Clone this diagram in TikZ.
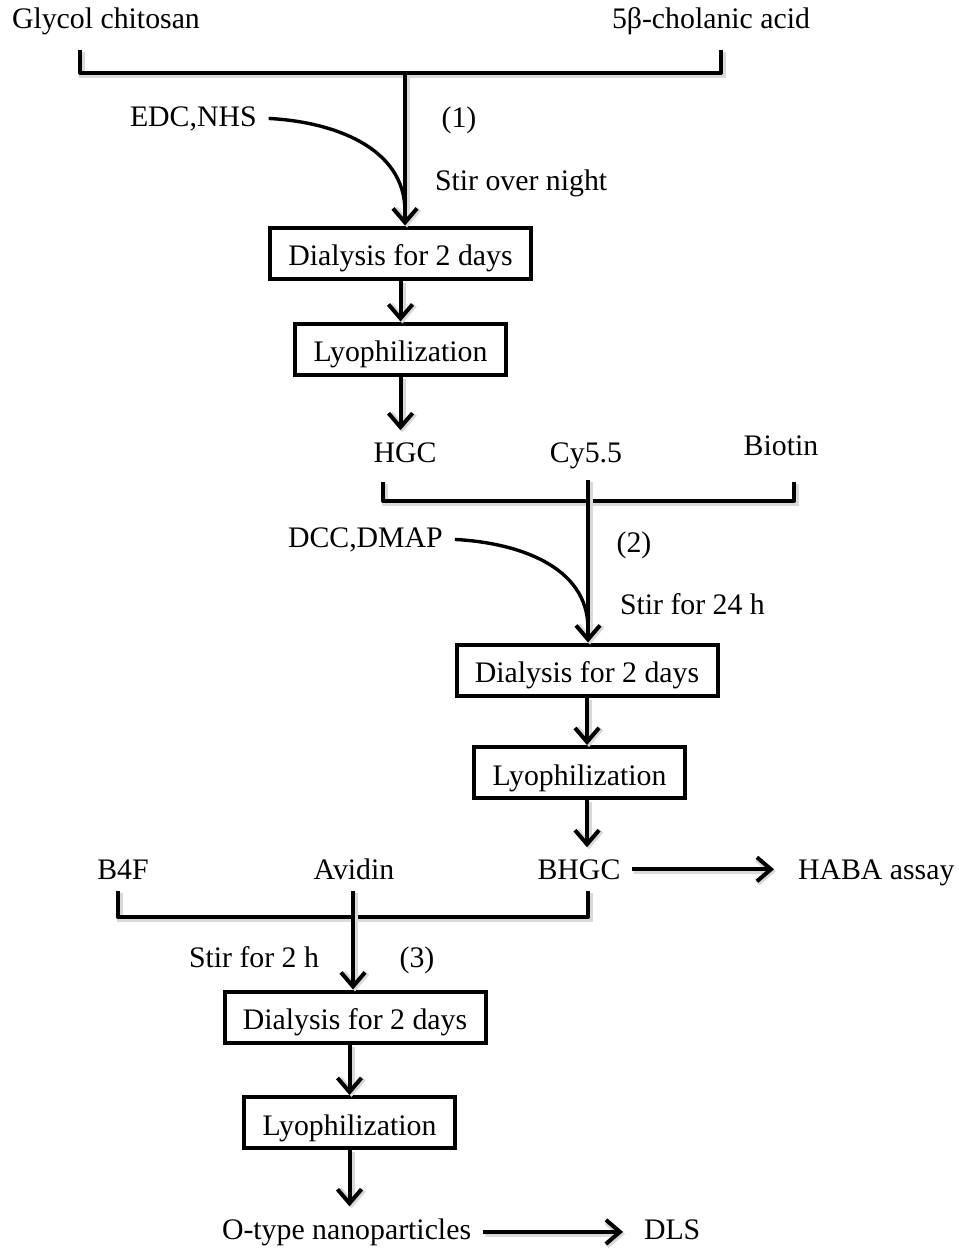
\documentclass[tikz,border=0pt]{standalone}
\usepackage{fontspec}
\setmainfont{Liberation Serif}
\usetikzlibrary{arrows.meta,shadows}

\tikzset{
  stepbox/.style={draw, line width=2pt, fill=white, inner sep=0pt, minimum height=25.5pt,
    text height=12.5pt, text depth=0pt,
    drop shadow={shadow xshift=1pt, shadow yshift=-1pt, opacity=.25}},
  dialbox/.style={stepbox, minimum width=130.5pt},
  lyobox/.style={stepbox, minimum width=105.5pt},
  lbl/.style={inner sep=0pt, outer sep=6pt},
  shad/.style={preaction={draw=black!15, line width=3pt, transform canvas={xshift=1pt, yshift=-1pt}}},
  brk/.style={shad, line width=2pt, line join=round},
  arr/.style={shad, line width=2pt, -{Straight Barb[length=7pt, width=12pt]}},
  curv/.style={line width=1.7pt},
}

\begin{document}
\begin{tikzpicture}[x=0.5pt, y=-0.5pt, font=\fontsize{14.9}{18}\selectfont]
\useasboundingbox (0,0) rectangle (959,1249);
%step (1)
\node[lbl, anchor=base west] (gc) at (0,28) {Glycol chitosan};
\node[lbl, anchor=base west] (cho) at (600,28) {5β-cholanic acid};
\coordinate (b1l) at (80,50);
\coordinate (b1m) at (405,73);
\coordinate (b1r) at (721,50);
\draw[brk] (b1l) |- (b1m) -| (b1r);
\node[dialbox] (d1) at (400.5,253) {Dialysis for 2 days};
\node[lyobox] (l1) at (400.5,349) {Lyophilization};
\node[lbl, anchor=base west] (edc) at (118,126) {EDC,NHS};
\node[lbl, anchor=base] (n1) at (459,127) {(1)};
\node[lbl, anchor=base west] (s1) at (423,190) {Stir over night};
\coordinate (t1) at (b1m |- d1.north);
\draw[arr] (b1m) -- (t1);
\draw[curv] (edc.east) to[out=-3, in=90] ([yshift=7pt]t1);
\draw[arr] (d1) -- (l1);
%step (2)
\node[lbl, anchor=base] (hgc) at (405,462) {HGC};
\node[lbl, anchor=base] (cy) at (586,462) {Cy5.5};
\node[lbl, anchor=base] (bio) at (781,455) {Biotin};
\draw[arr] (l1.south) -- (l1.south |- hgc.north);
\coordinate (b2l) at (383,482);
\coordinate (b2m) at (588,501);
\coordinate (b2r) at (794,482);
\draw[brk] (b2l) |- (b2m) -| (b2r);
\node[dialbox] (d2) at (587,670) {Dialysis for 2 days};
\node[lyobox] (l2) at (579.5,772.5) {Lyophilization};
\node[lbl, anchor=base west] (dcc) at (276,547) {DCC,DMAP};
\node[lbl, anchor=base] (n2) at (634,552) {(2)};
\node[lbl, anchor=base west] (s2) at (608,614) {Stir for 24 h};
\coordinate (t2) at (b2m |- d2.north);
\draw[arr] (b2m |- cy.south) -- (t2);
\draw[curv] (dcc.east) to[out=-3, in=90] ([yshift=7pt]t2);
\draw[arr] (d2.south) -- (d2.south |- l2.north);
%step (3)
\node[lbl, anchor=base] (bhgc) at (579,879) {BHGC};
\node[lbl, anchor=base west] (haba) at (786,879) {HABA assay};
\draw[arr] (d2.south |- l2.south) -- (d2.south |- bhgc.north);
\draw[arr, shorten >=6pt] (bhgc.east) -- (bhgc.east -| haba.west);
\node[lbl, anchor=base] (b4f) at (123,879) {B4F};
\node[lbl, anchor=base] (av) at (354,879) {Avidin};
\coordinate (b3l) at (118,891);
\coordinate (b3m) at (353,917);
\coordinate (b3r) at (588,891);
\draw[brk] (b3l) |- (b3m) -| (b3r);
\node[dialbox] (d3) at (355,1017) {Dialysis for 2 days};
\node[lyobox] (l3) at (349.5,1122.5) {Lyophilization};
\node[lbl, anchor=base west] (s3) at (177,967) {Stir for 2 h};
\node[lbl, anchor=base] (n3) at (417,967) {(3)};
\draw[arr] (b3m |- av.south) -- (b3m |- d3.north);
\draw[arr] (l3.north |- d3.south) -- (l3.north);
\node[lbl, anchor=base west] (np) at (210,1239) {O-type nanoparticles};
\node[lbl, anchor=base west] (dls) at (632,1239) {DLS};
\draw[arr] (l3.south) -- (l3.south |- np.north);
\draw[arr, shorten >=4.5pt] (np.east) -- (np.east -| dls.west);
\end{tikzpicture}
\end{document}
